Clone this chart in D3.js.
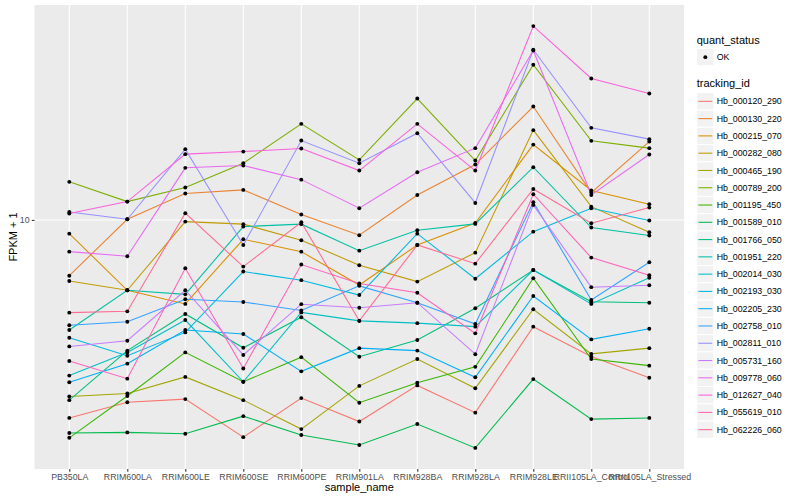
<!DOCTYPE html>
<html><head><meta charset="utf-8">
<script src="https://cdn.jsdelivr.net/npm/d3@7"></script>
<style>
body{margin:0;background:#fff}
svg{display:block}
text{font-family:"Liberation Sans",Arial,Helvetica,sans-serif}
</style>
</head><body>
<svg id="chart" width="800" height="500"></svg>
<script>
// ---- data ----
const samples = ["PB350LA","RRIM600LA","RRIM600LE","RRIM600SE","RRIM600PE","RRIM901LA","RRIM928BA","RRIM928LA","RRIM928LE","RRII105LA_Control","RRII105LA_Stressed"];
const trackingIds = ["Hb_000120_290","Hb_000130_220","Hb_000215_070","Hb_000282_080","Hb_000465_190","Hb_000789_200","Hb_001195_450","Hb_001589_010","Hb_001766_050","Hb_001951_220","Hb_002014_030","Hb_002193_030","Hb_002205_230","Hb_002758_010","Hb_002811_010","Hb_005731_160","Hb_009778_060","Hb_012627_040","Hb_055619_010","Hb_062226_060"];
const quantStatus = ["OK"];
const yTickValues = [10];

const Hb_000120_290 = [2.19, 2.47, 2.53, 1.89, 2.55, 2.13, 2.81, 2.28, 4.41, 3.51, 2.98];
const Hb_000130_220 = [6.52, 10.05, 12.24, 12.59, 10.42, 8.89, 12.11, 15.29, 23.86, 12.33, 18.24];
const Hb_000215_070 = [9.00, 5.83, 5.25, 8.62, 7.84, 6.07, 8.25, 9.77, 17.82, 12.53, 11.28];
const Hb_000282_080 = [6.26, 5.83, 9.87, 9.68, 8.56, 7.06, 6.23, 7.78, 19.91, 11.07, 9.10];
const Hb_000465_190 = [2.58, 2.64, 3.00, 2.51, 2.01, 2.80, 3.44, 2.75, 5.04, 3.58, 3.74];
const Hb_000789_200 = [13.39, 11.51, 12.82, 15.45, 20.89, 15.85, 25.37, 15.77, 32.87, 18.34, 17.34];
const Hb_001195_450 = [1.88, 2.59, 3.62, 2.89, 3.49, 2.46, 2.87, 3.24, 6.39, 3.44, 3.27];
const Hb_001589_010 = [1.95, 1.96, 1.94, 2.22, 1.92, 1.78, 2.09, 1.74, 2.95, 2.17, 2.19];
const Hb_001766_050 = [2.51, 3.67, 4.86, 3.75, 4.74, 3.50, 3.98, 5.08, 6.81, 5.34, 5.30];
const Hb_001951_220 = [4.30, 5.83, 5.65, 9.50, 9.68, 7.90, 9.24, 9.70, 14.98, 9.43, 8.87];
const Hb_002014_030 = [3.03, 3.62, 4.64, 2.89, 4.92, 4.61, 4.53, 4.41, 6.81, 5.25, 6.42];
const Hb_002193_030 = [4.05, 3.53, 4.22, 6.73, 6.30, 5.62, 9.00, 6.37, 9.14, 10.94, 9.95];
const Hb_002205_230 = [2.88, 3.32, 4.30, 4.17, 3.13, 3.74, 3.67, 2.99, 5.58, 4.00, 4.34];
const Hb_002758_010 = [4.46, 4.58, 5.44, 5.33, 4.99, 6.03, 5.30, 4.50, 11.46, 5.41, 7.23];
const Hb_002811_010 = [10.63, 10.05, 17.21, 8.25, 18.38, 15.45, 19.45, 11.39, 36.88, 20.26, 18.58];
const Hb_005731_160 = [3.79, 3.96, 5.83, 3.55, 5.24, 5.10, 5.30, 3.57, 11.22, 5.97, 6.06];
const Hb_009778_060 = [7.84, 7.57, 14.91, 15.17, 13.62, 10.94, 14.42, 17.34, 36.68, 12.11, 16.51];
const Hb_012627_040 = [10.50, 11.51, 16.56, 16.89, 17.29, 14.60, 20.89, 14.60, 44.22, 29.58, 26.36];
const Hb_055619_010 = [3.39, 2.96, 6.90, 3.20, 7.10, 6.14, 5.72, 4.19, 12.18, 7.49, 6.54];
const Hb_062226_060 = [4.91, 4.96, 10.53, 6.99, 9.82, 4.61, 8.25, 7.15, 12.68, 9.75, 10.99];

const seriesValues = [Hb_000120_290, Hb_000130_220, Hb_000215_070, Hb_000282_080, Hb_000465_190,
  Hb_000789_200, Hb_001195_450, Hb_001589_010, Hb_001766_050, Hb_001951_220, Hb_002014_030,
  Hb_002193_030, Hb_002205_230, Hb_002758_010, Hb_002811_010, Hb_005731_160, Hb_009778_060,
  Hb_012627_040, Hb_055619_010, Hb_062226_060];

// ---- style ----
const palette = ["#F8766D","#EA8331","#D89000","#C09B00","#A3A500","#7CAE00","#39B600","#00BB4E","#00BF7D","#00C1A3","#00BFC4","#00BAE0","#00B0F6","#35A2FF","#9590FF","#C77CFF","#E76BF3","#FA62DB","#FF62BC","#FF6C91"];

const panel = {left: 34.5, right: 684.1, top: 5, bottom: 469};
const svg = d3.select("#chart");

const series = trackingIds.map((id, i) => ({
  id, color: palette[i],
  points: samples.map((s, j) => ({sample: s, value: seriesValues[i][j]}))
}));

const allVals = seriesValues.flat();
const lo = Math.log10(d3.min(allVals)), hi = Math.log10(d3.max(allVals));
const pad = (hi - lo) * 0.05;

const x = d3.scalePoint().domain(samples).range([panel.left, panel.right]).padding(0.6);
const y = d3.scaleLog().domain([Math.pow(10, lo - pad), Math.pow(10, hi + pad)]).range([panel.bottom, panel.top]);

// panel background
svg.append("rect").attr("x", panel.left).attr("y", panel.top)
  .attr("width", panel.right - panel.left).attr("height", panel.bottom - panel.top)
  .attr("fill", "#EBEBEB");

// grid
const grid = svg.append("g");
grid.selectAll("line.v").data(samples).enter().append("line")
  .attr("x1", d => x(d)).attr("x2", d => x(d))
  .attr("y1", panel.top).attr("y2", panel.bottom)
  .attr("stroke", "#fff").attr("stroke-width", 1.07);
grid.selectAll("line.h").data(yTickValues).enter().append("line")
  .attr("x1", panel.left).attr("x2", panel.right)
  .attr("y1", d => y(d)).attr("y2", d => y(d))
  .attr("stroke", "#fff").attr("stroke-width", 1.07);

// lines
const line = d3.line().x(d => x(d.sample)).y(d => y(d.value));
svg.append("g").selectAll("path").data(series).enter().append("path")
  .attr("d", d => line(d.points))
  .attr("fill", "none").attr("stroke", d => d.color).attr("stroke-width", 1.07);

// points
svg.append("g").selectAll("circle")
  .data(series.flatMap(s => s.points)).enter().append("circle")
  .attr("cx", d => x(d.sample)).attr("cy", d => y(d.value))
  .attr("r", 1.95).attr("fill", "#000");

// axes
const yAxis = d3.axisLeft(y).tickValues(yTickValues).tickFormat(d3.format("d")).tickSize(2.74).tickPadding(2.2);
const gy = svg.append("g").attr("transform", `translate(${panel.left},0)`).call(yAxis);
gy.select(".domain").remove();
gy.selectAll(".tick line").attr("stroke", "#333333").attr("stroke-width", 1.07);
gy.selectAll(".tick text").attr("fill", "#4D4D4D").style("font-size", "8.8px")
  .style("font-family", '"Liberation Sans",Arial,sans-serif');

const xAxis = d3.axisBottom(x).tickSize(2.74).tickPadding(2.2);
const gx = svg.append("g").attr("transform", `translate(0,${panel.bottom})`).call(xAxis);
gx.select(".domain").remove();
gx.selectAll(".tick line").attr("stroke", "#333333").attr("stroke-width", 1.07);
gx.selectAll(".tick text").attr("fill", "#4D4D4D").style("font-size", "8.8px")
  .style("font-family", '"Liberation Sans",Arial,sans-serif');

// axis titles
svg.append("text").attr("x", (panel.left + panel.right) / 2).attr("y", 491)
  .attr("text-anchor", "middle").style("font-size", "11px").attr("fill", "#000").text("sample_name");
svg.append("text").attr("transform", `translate(16.5,${(panel.top + panel.bottom) / 2}) rotate(-90)`)
  .attr("text-anchor", "middle").style("font-size", "11px").attr("fill", "#000").text("FPKM + 1");

// legends
const lg = svg.append("g");
const keyX = 696.7, keyW = 17.28, labelX = 716.7;
lg.append("text").attr("x", keyX).attr("y", 44).style("font-size", "11px").text("quant_status");
const q = lg.selectAll("g.q").data(quantStatus).enter().append("g")
  .attr("transform", (d, i) => `translate(${keyX},${48.5 + i * keyW})`);
q.append("rect").attr("width", keyW).attr("height", keyW).attr("fill", "#F2F2F2").attr("stroke", "#fff").attr("stroke-width", 1);
q.append("circle").attr("cx", keyW / 2).attr("cy", keyW / 2).attr("r", 1.95).attr("fill", "#000");
q.append("text").attr("x", labelX - keyX).attr("y", keyW / 2).attr("dy", "0.35em")
  .style("font-size", "8.8px").attr("fill", "#000").text(d => d);

lg.append("text").attr("x", keyX).attr("y", 86.5).style("font-size", "11px").text("tracking_id");
const t = lg.selectAll("g.t").data(series).enter().append("g")
  .attr("transform", (d, i) => `translate(${keyX},${92.7 + i * keyW})`);
t.append("rect").attr("width", keyW).attr("height", keyW).attr("fill", "#F2F2F2").attr("stroke", "#fff").attr("stroke-width", 1);
t.append("line").attr("x1", 1.7).attr("x2", keyW - 1.7).attr("y1", keyW / 2).attr("y2", keyW / 2)
  .attr("stroke", d => d.color).attr("stroke-width", 1.07);
t.append("text").attr("x", labelX - keyX).attr("y", keyW / 2).attr("dy", "0.35em")
  .style("font-size", "8.8px").attr("fill", "#000").text(d => d.id);
</script>
</body></html>
